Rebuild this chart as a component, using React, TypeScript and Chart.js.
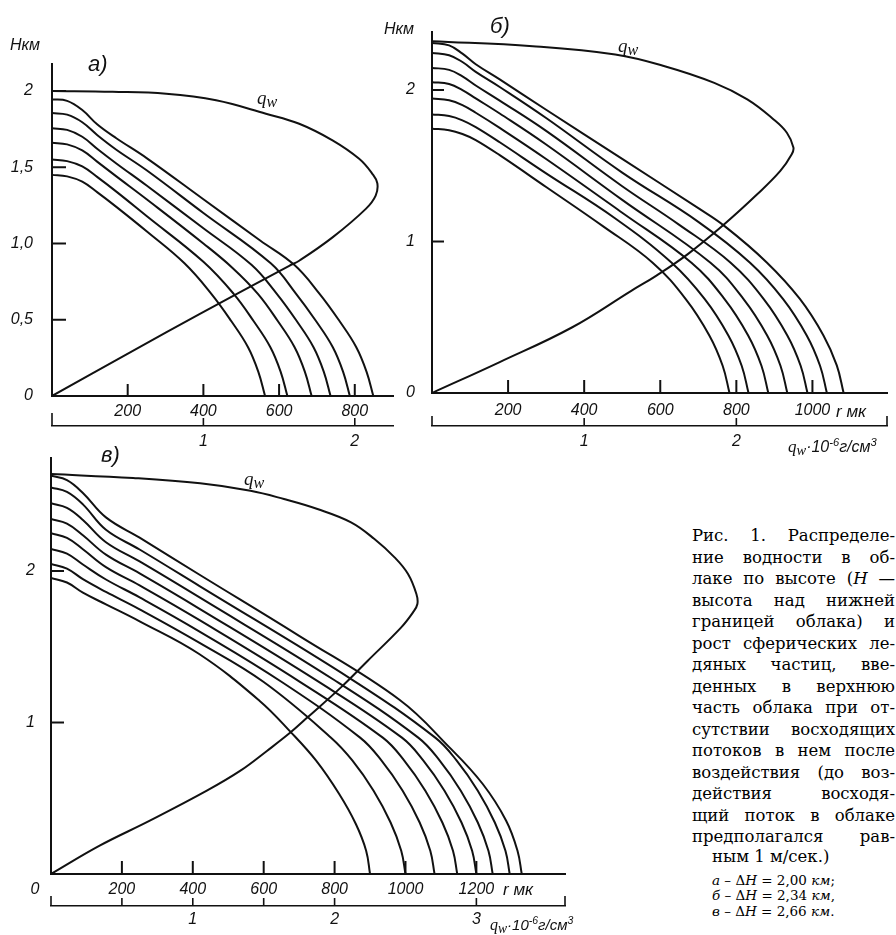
import React, { useEffect, useRef } from 'react';
import { Chart, registerables } from 'chart.js';

Chart.register(...registerables);

type P = [number, number];

const INK = '#111';
const SANS = '"Liberation Sans", Arial, sans-serif';
const SERIF = '"Liberation Serif", "Times New Roman", serif';
const CAP_SERIF = '"DejaVu Serif", "Liberation Serif", serif';
const R_PER_Q = 400; // 1 unit of q_w (10^-6 g/cm3) corresponds to 400 µm on the r scale

// ---------- Panel а (ΔH = 2,00 km) ----------
const A_X_TICKS = [200, 400, 600, 800];
const A_Y_TICKS = [0, 0.5, 1, 1.5, 2];
const A_Y_LABELS = ['0', '0,5', '1,0', '1,5', '2'];
const A_Q_TICKS = [1, 2];
const A_Q_LABELS = ['1', '2'];
const A_QW: P[] = [[0, 2.0], [0.4, 1.995], [0.754, 1.982], [1.084, 1.939], [1.413, 1.851], [1.633, 1.785], [1.853, 1.676], [2.029, 1.555], [2.116, 1.457], [2.149, 1.395], [2.138, 1.314], [2.073, 1.227], [1.853, 1.04], [1.633, 0.887], [1.567, 0.854], [0.974, 0.537], [0.534, 0.296], [0, 0]];
const A_R1: P[] = [[0, 1.45], [40, 1.44], [80, 1.405], [120, 1.335], [170, 1.24], [250, 1.08], [350, 0.87], [421, 0.67], [474, 0.49], [518, 0.32], [545, 0.16], [563, 0]];
const A_R2: P[] = [[0, 1.55], [40, 1.54], [80, 1.505], [120, 1.435], [170, 1.34], [250, 1.18], [400, 0.88], [480, 0.67], [533, 0.49], [577, 0.32], [604, 0.16], [622, 0]];
const A_R3: P[] = [[0, 1.66], [40, 1.65], [80, 1.61], [120, 1.535], [170, 1.44], [250, 1.29], [400, 1.0], [477, 0.84], [544, 0.67], [597, 0.49], [641, 0.32], [668, 0.16], [686, 0]];
const A_R4: P[] = [[0, 1.755], [40, 1.745], [80, 1.7], [120, 1.62], [170, 1.525], [250, 1.38], [400, 1.1], [527, 0.86], [594, 0.67], [647, 0.49], [691, 0.32], [718, 0.16], [736, 0]];
const A_R5: P[] = [[0, 1.855], [40, 1.845], [80, 1.795], [120, 1.71], [170, 1.615], [250, 1.48], [400, 1.2], [578, 0.87], [645, 0.67], [698, 0.49], [742, 0.32], [769, 0.16], [787, 0]];
const A_R6: P[] = [[0, 1.945], [40, 1.935], [80, 1.875], [120, 1.78], [170, 1.69], [250, 1.56], [400, 1.29], [550, 1.02], [640, 0.86], [707, 0.67], [760, 0.49], [804, 0.32], [831, 0.16], [849, 0]];

// ---------- Panel б (ΔH = 2,34 km) ----------
const B_X_TICKS = [200, 400, 600, 800, 1000];
const B_Y_TICKS = [0, 1, 2];
const B_Y_LABELS = ['0', '1', '2'];
const B_Q_TICKS = [1, 2];
const B_Q_LABELS = ['1', '2'];
const B_QW: P[] = [[0, 2.322], [0.662, 2.289], [1.204, 2.234], [1.529, 2.157], [1.855, 2.047], [2.072, 1.938], [2.245, 1.806], [2.332, 1.718], [2.375, 1.62], [2.364, 1.576], [2.289, 1.466], [2.137, 1.312], [1.909, 1.104], [1.681, 0.917], [1.475, 0.775], [1.312, 0.676], [0.922, 0.434], [0.445, 0.204], [0, 0]];
const B_R1: P[] = [[0, 1.745], [45, 1.735], [80, 1.71], [115, 1.67], [178, 1.57], [300, 1.36], [450, 1.1], [580, 0.86], [667, 0.62], [729, 0.38], [764, 0.18], [782, 0]];
const B_R2: P[] = [[0, 1.839], [45, 1.828], [80, 1.8], [115, 1.755], [178, 1.655], [300, 1.45], [480, 1.155], [630, 0.86], [717, 0.62], [779, 0.38], [814, 0.18], [832, 0]];
const B_R3: P[] = [[0, 1.944], [45, 1.932], [80, 1.9], [115, 1.85], [178, 1.75], [300, 1.545], [500, 1.19], [682, 0.86], [769, 0.62], [831, 0.38], [866, 0.18], [884, 0]];
const B_R4: P[] = [[0, 2.052], [45, 2.04], [80, 2.0], [115, 1.945], [178, 1.845], [300, 1.64], [500, 1.275], [732, 0.86], [819, 0.62], [881, 0.38], [916, 0.18], [934, 0]];
const B_R5: P[] = [[0, 2.146], [45, 2.133], [80, 2.09], [115, 2.03], [178, 1.93], [300, 1.73], [500, 1.365], [650, 1.11], [785, 0.86], [872, 0.62], [934, 0.38], [969, 0.18], [987, 0]];
const B_R6: P[] = [[0, 2.245], [45, 2.23], [80, 2.185], [115, 2.12], [178, 2.02], [300, 1.815], [500, 1.455], [700, 1.13], [836, 0.86], [923, 0.62], [985, 0.38], [1020, 0.18], [1038, 0]];
const B_R7: P[] = [[0, 2.311], [45, 2.295], [80, 2.24], [115, 2.17], [178, 2.07], [300, 1.87], [500, 1.545], [700, 1.22], [770, 1.1], [880, 0.862], [967, 0.621], [1029, 0.38], [1064, 0.182], [1082, 0]];

// ---------- Panel в (ΔH = 2,66 km) ----------
const C_X_TICKS = [200, 400, 600, 800, 1000, 1200];
const C_Y_TICKS = [1, 2];
const C_Y_LABELS = ['1', '2'];
const C_Q_TICKS = [1, 2, 3];
const C_Q_LABELS = ['1', '2', '3'];
const C_Q_MINOR = [0.5, 1.5];
const C_QW: P[] = [[0, 2.64], [0.579, 2.614], [1.052, 2.579], [1.407, 2.53], [1.643, 2.475], [1.879, 2.409], [2.116, 2.321], [2.281, 2.211], [2.423, 2.09], [2.518, 1.98], [2.577, 1.848], [2.584, 1.782], [2.553, 1.727], [2.47, 1.628], [2.234, 1.408], [2.045, 1.232], [1.809, 1.034], [1.69, 0.935], [1.525, 0.814], [1.336, 0.682], [1.099, 0.55], [0.697, 0.352], [0.343, 0.187], [0, 0]];
const C_R1: P[] = [[0, 1.954], [45, 1.924], [90, 1.857], [155, 1.78], [250, 1.668], [418, 1.452], [588, 1.144], [677, 0.935], [748, 0.748], [813, 0.528], [860, 0.33], [889, 0.154], [900, 0]];
const C_R2: P[] = [[0, 2.046], [45, 2.016], [90, 1.946], [155, 1.862], [250, 1.747], [418, 1.527], [600, 1.267], [790, 0.9], [850, 0.75], [910, 0.55], [958, 0.34], [988, 0.154], [1000, 0]];
const C_R3: P[] = [[0, 2.145], [45, 2.115], [90, 2.043], [155, 1.944], [250, 1.826], [418, 1.602], [650, 1.269], [872, 0.9], [932, 0.75], [992, 0.55], [1040, 0.34], [1070, 0.154], [1082, 0]];
const C_R4: P[] = [[0, 2.249], [45, 2.219], [90, 2.144], [155, 2.026], [250, 1.905], [418, 1.677], [700, 1.272], [936, 0.9], [996, 0.75], [1056, 0.55], [1104, 0.34], [1134, 0.154], [1146, 0]];
const C_R5: P[] = [[0, 2.343], [45, 2.313], [90, 2.236], [155, 2.108], [250, 1.984], [418, 1.752], [750, 1.276], [990, 0.9], [1050, 0.75], [1110, 0.55], [1158, 0.34], [1188, 0.154], [1200, 0]];
const C_R6: P[] = [[0, 2.447], [45, 2.417], [90, 2.337], [155, 2.19], [250, 2.063], [418, 1.827], [800, 1.279], [1036, 0.9], [1096, 0.75], [1156, 0.55], [1204, 0.34], [1234, 0.154], [1246, 0]];
const C_R7: P[] = [[0, 2.552], [45, 2.522], [90, 2.44], [155, 2.272], [250, 2.142], [418, 1.902], [850, 1.282], [1084, 0.9], [1144, 0.75], [1204, 0.55], [1252, 0.34], [1282, 0.154], [1294, 0]];
const C_R8: P[] = [[0, 2.629], [45, 2.6], [90, 2.515], [155, 2.354], [250, 2.22], [418, 1.977], [700, 1.572], [983, 1.15], [1124, 0.836], [1218, 0.594], [1284, 0.352], [1316, 0.154], [1328, 0]];

// ---------- Caption ----------
const CAPTION_LINES = [
  'Рис. 1. Распределе-',
  'ние водности в об-',
  'лаке по высоте (H —',
  'высота над нижней',
  'границей облака) и',
  'рост сферических ле-',
  'дяных частиц, вве-',
  'денных в верхнюю',
  'часть облака при от-',
  'сутствии восходящих',
  'потоков в нем после',
  'воздействия (до воз-',
  'действия восходя-',
  'щий поток в облаке',
  'предполагался рав-',
];
const CAPTION_LAST = 'ным 1 м/сек.)';
const CAPTION_NOTES: [string, string, string][] = [
  ['а', '2,00', ';'],
  ['б', '2,34', ','],
  ['в', '2,66', '.'],
];

interface PanelSpec {
  left: number; top: number; w: number; h: number;
  padding: { left: number; right: number; top: number; bottom: number };
  yW: number; xH: number; x2H: number;
  xMax: number; yMax: number;
  curves: P[][]; qw: P[];
  xTicks: number[]; yTicks: number[]; yLabels: string[];
  qTicks: number[]; qLabels: string[]; qMinor: number[]; qEnds: number[];
  yPad: number; xPad: number; x2Pad: number;
  yLen: number; xLen: number; qLen: number; qEndLen: number;
  origin?: { dx: number; dy: number };
}

const tickMarkPlugin = {
  id: 'tickMarks',
  afterDraw(chart: any, _args: any, o: any) {
    const { ctx, chartArea, scales } = chart;
    const seg = (x1: number, y1: number, x2: number, y2: number) => {
      ctx.beginPath(); ctx.moveTo(x1, y1); ctx.lineTo(x2, y2); ctx.stroke();
    };
    ctx.save();
    ctx.strokeStyle = INK;
    ctx.lineWidth = 2;
    o.yMarks.forEach((v: number) => {
      const y = scales.y.getPixelForValue(v);
      seg(chartArea.left, y, chartArea.left + o.yLen, y);
    });
    o.xMarks.forEach((v: number) => {
      const x = scales.x.getPixelForValue(v);
      seg(x, chartArea.bottom, x, chartArea.bottom - o.xLen);
    });
    const qy = scales.x2.top;
    ctx.lineWidth = 1.6;
    o.qMarks.forEach((v: number) => {
      const x = scales.x2.getPixelForValue(v);
      seg(x, qy, x, qy - o.qLen);
    });
    o.qEnds.forEach((v: number) => {
      const x = scales.x2.getPixelForValue(v);
      seg(x, qy, x, qy - o.qEndLen);
    });
    if (o.origin) {
      ctx.fillStyle = INK;
      ctx.font = `italic 16px ${SANS}`;
      ctx.textAlign = 'center';
      ctx.textBaseline = 'middle';
      ctx.fillText('0', chartArea.left + o.origin.dx, chartArea.bottom + o.origin.dy);
    }
    ctx.restore();
  },
};

function buildConfig(s: PanelSpec): any {
  const base = { borderColor: INK, borderWidth: 2, pointRadius: 0, showLine: true, fill: false };
  const datasets: any[] = s.curves.map((c) => ({
    ...base,
    data: c.map(([x, y]) => ({ x, y })),
    tension: 0.4,
    xAxisID: 'x',
    yAxisID: 'y',
  }));
  datasets.push({
    ...base,
    data: s.qw.map(([x, y]) => ({ x, y })),
    tension: 0.4,
    xAxisID: 'x2',
    yAxisID: 'y',
  });
  const tickFont = { family: SANS, size: 16, style: 'italic' as const };
  const border = { display: true, color: INK, width: 2 };
  return {
    type: 'scatter',
    data: { datasets },
    plugins: [tickMarkPlugin],
    options: {
      responsive: false,
      animation: false,
      devicePixelRatio: 1,
      events: [],
      layout: { padding: s.padding },
      plugins: {
        legend: { display: false },
        tooltip: { enabled: false },
        tickMarks: {
          yMarks: s.yTicks.filter((v) => v > 0),
          xMarks: s.xTicks,
          qMarks: [...s.qTicks, ...s.qMinor],
          qEnds: s.qEnds,
          yLen: s.yLen, xLen: s.xLen, qLen: s.qLen, qEndLen: s.qEndLen,
          origin: s.origin,
        },
      },
      scales: {
        x: {
          type: 'linear', position: 'bottom', min: 0, max: s.xMax, weight: 0,
          grid: { display: false, drawTicks: false },
          border,
          afterBuildTicks: (sc: any) => { sc.ticks = s.xTicks.map((v) => ({ value: v })); },
          afterFit: (sc: any) => { sc.height = s.xH; sc.paddingLeft = 0; sc.paddingRight = 0; },
          ticks: { font: tickFont, color: INK, padding: s.xPad, maxRotation: 0, autoSkip: false, callback: (v: number) => String(v) },
        },
        x2: {
          type: 'linear', position: 'bottom', min: 0, max: s.xMax / R_PER_Q, weight: 1,
          grid: { display: false, drawTicks: false },
          border: { display: true, color: INK, width: 1.6 },
          afterBuildTicks: (sc: any) => { sc.ticks = s.qTicks.map((v) => ({ value: v })); },
          afterFit: (sc: any) => { sc.height = s.x2H; sc.paddingLeft = 0; sc.paddingRight = 0; },
          ticks: {
            font: tickFont, color: INK, padding: s.x2Pad, maxRotation: 0, autoSkip: false,
            callback: (v: number) => s.qLabels[s.qTicks.indexOf(v)] ?? '',
          },
        },
        y: {
          type: 'linear', position: 'left', min: 0, max: s.yMax,
          grid: { display: false, drawTicks: false },
          border,
          afterBuildTicks: (sc: any) => { sc.ticks = s.yTicks.map((v) => ({ value: v })); },
          afterFit: (sc: any) => { sc.width = s.yW; sc.paddingTop = 0; sc.paddingBottom = 0; },
          ticks: {
            font: tickFont, color: INK, padding: s.yPad, autoSkip: false,
            callback: (v: number) => s.yLabels[s.yTicks.indexOf(v)] ?? '',
          },
        },
      },
    },
  };
}

const PANEL_A: PanelSpec = {
  left: 0, top: 0, w: 448, h: 460,
  padding: { left: 0, right: 55, top: 64, bottom: 0 },
  yW: 52, xH: 30, x2H: 34,
  xMax: 901, yMax: 2.177,
  curves: [A_R1, A_R2, A_R3, A_R4, A_R5, A_R6], qw: A_QW,
  xTicks: A_X_TICKS, yTicks: A_Y_TICKS, yLabels: A_Y_LABELS,
  qTicks: A_Q_TICKS, qLabels: A_Q_LABELS, qMinor: [], qEnds: [0],
  yPad: 19, xPad: 6, x2Pad: 6,
  yLen: 14, xLen: 12, qLen: 8, qEndLen: 13,
};

const PANEL_B: PanelSpec = {
  left: 380, top: 0, w: 516, h: 460,
  padding: { left: 0, right: 9, top: 32, bottom: 0 },
  yW: 52, xH: 33, x2H: 34,
  xMax: 1196, yMax: 2.383,
  curves: [B_R1, B_R2, B_R3, B_R4, B_R5, B_R6, B_R7], qw: B_QW,
  xTicks: B_X_TICKS, yTicks: B_Y_TICKS, yLabels: B_Y_LABELS,
  qTicks: B_Q_TICKS, qLabels: B_Q_LABELS, qMinor: [], qEnds: [0, 1196 / R_PER_Q],
  yPad: 17, xPad: 8, x2Pad: 6,
  yLen: 12, xLen: 13, qLen: 8, qEndLen: 10,
};

const PANEL_C: PanelSpec = {
  left: 0, top: 440, w: 600, h: 495,
  padding: { left: 0, right: 35, top: 18, bottom: 0 },
  yW: 51, xH: 32, x2H: 29,
  xMax: 1450, yMax: 2.746,
  curves: [C_R1, C_R2, C_R3, C_R4, C_R5, C_R6, C_R7, C_R8], qw: C_QW,
  xTicks: C_X_TICKS, yTicks: C_Y_TICKS, yLabels: C_Y_LABELS,
  qTicks: C_Q_TICKS, qLabels: C_Q_LABELS, qMinor: C_Q_MINOR, qEnds: [0, 1450 / R_PER_Q],
  yPad: 16, xPad: 6, x2Pad: 4,
  yLen: 13, xLen: 13, qLen: 8, qEndLen: 10,
  origin: { dx: -16, dy: 16 },
};

function PanelChart({ spec }: { spec: PanelSpec }) {
  const ref = useRef<HTMLCanvasElement | null>(null);
  useEffect(() => {
    if (!ref.current) return;
    const chart = new Chart(ref.current, buildConfig(spec));
    return () => chart.destroy();
  }, [spec]);
  return (
    <canvas
      ref={ref}
      width={spec.w}
      height={spec.h}
      style={{ position: 'absolute', left: spec.left, top: spec.top, width: spec.w, height: spec.h }}
    />
  );
}

function Txt({ x, y, size, family = SANS, italic = true, children }: any) {
  return (
    <div
      style={{
        position: 'absolute', left: x, top: y - size * 0.6, fontSize: size, lineHeight: `${size * 1.2}px`,
        fontFamily: family, fontStyle: italic ? 'italic' : 'normal', color: INK, whiteSpace: 'nowrap',
      }}
    >
      {children}
    </div>
  );
}

const Qw = ({ size }: { size: number }) => (
  <span style={{ fontFamily: SERIF, fontStyle: 'italic', fontSize: size }}>
    q<span style={{ fontSize: size * 0.85, position: 'relative', top: size * 0.2 }}>w</span>
  </span>
);

const QUnit = ({ size }: { size: number }) => (
  <span style={{ fontSize: size }}>
    <Qw size={size + 1} />·10<sup style={{ fontSize: size * 0.7 }}>-6</sup>г/см<sup style={{ fontSize: size * 0.7 }}>3</sup>
  </span>
);

const CAP_TOP = 536;
const CAP_STEP = 21.5;
const CAP_SIZE = 16.5;

export default function App() {
  return (
    <div style={{ position: 'absolute', left: 0, top: 0, width: 896, height: 935, background: '#fff', overflow: 'hidden' }}>
      <PanelChart spec={PANEL_A} />
      <PanelChart spec={PANEL_B} />
      <PanelChart spec={PANEL_C} />

      {/* panel а labels */}
      <Txt x={10} y={45} size={16}>Нкм</Txt>
      <Txt x={88} y={64} size={22}>а)</Txt>
      <Txt x={257} y={98} size={19} family={SERIF}><Qw size={19} /></Txt>

      {/* panel б labels */}
      <Txt x={384} y={29} size={16}>Нкм</Txt>
      <Txt x={490} y={26} size={22}>б)</Txt>
      <Txt x={618} y={46} size={19} family={SERIF}><Qw size={19} /></Txt>
      <Txt x={836} y={412} size={17}>r мк</Txt>
      <Txt x={788} y={442} size={16}><QUnit size={16} /></Txt>

      {/* panel в labels */}
      <Txt x={101} y={455} size={22}>в)</Txt>
      <Txt x={244} y={479} size={19} family={SERIF}><Qw size={19} /></Txt>
      <Txt x={503} y={890} size={17}>r мк</Txt>
      <Txt x={490} y={920} size={15}><QUnit size={15} /></Txt>

      {/* caption */}
      {CAPTION_LINES.map((t, i) => (
        <div
          key={i}
          style={{
            position: 'absolute', left: 692, top: CAP_TOP + CAP_STEP * i - 11, width: 203, height: 22,
            fontFamily: CAP_SERIF, fontSize: CAP_SIZE, lineHeight: '22px', color: '#000',
            textAlign: 'justify', textAlignLast: 'justify', whiteSpace: 'nowrap',
          }}
        >
          {t.includes('(H') ? (<>лаке по высоте (<i>H</i> —</>) : t}
        </div>
      ))}
      <div style={{ position: 'absolute', left: 712, top: CAP_TOP + CAP_STEP * 15 - 2 - 11, fontFamily: CAP_SERIF, fontSize: CAP_SIZE, lineHeight: '22px', color: '#000', whiteSpace: 'nowrap' }}>
        {CAPTION_LAST}
      </div>
      {CAPTION_NOTES.map(([l, v, p], i) => (
        <div
          key={'n' + i}
          style={{ position: 'absolute', left: 712, top: CAP_TOP + CAP_STEP * 15 + 21 + 15.5 * i - 8, fontFamily: CAP_SERIF, fontSize: 13.5, lineHeight: '16px', color: '#000', whiteSpace: 'nowrap' }}
        >
          <i>{l}</i> – Δ<i>H</i> = {v} <i>км</i>{p}
        </div>
      ))}
    </div>
  );
}
